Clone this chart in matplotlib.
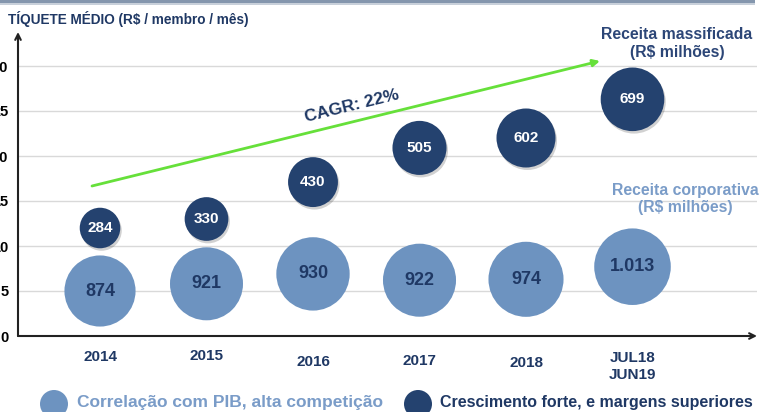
import matplotlib
matplotlib.use("Agg")
import matplotlib.pyplot as plt
import matplotlib.transforms as mtransforms
from matplotlib.patches import Circle, Rectangle

# ---------------- data ----------------
categories = ["2014", "2015", "2016", "2017", "2018", "JUL18\nJUN19"]
corporate_revenue = [874, 921, 930, 922, 974, 1013]
corporate_ticket = [5.0, 5.8, 6.9, 6.2, 6.3, 7.7]
mass_revenue = [284, 330, 430, 505, 602, 699]
mass_ticket = [12.0, 13.0, 17.1, 20.9, 22.0, 26.3]
y_ticks = [0, 5, 10, 15, 20, 25, 30]
cagr_label = "CAGR: 22%"
title = "TÍQUETE MÉDIO (R$ / membro / mês)"
legend_corp = "Correlação com PIB, alta competição"
legend_mass = "Crescimento forte, e margens superiores"

# ---------------- style ----------------
plt.rcParams['font.family'] = ['Liberation Sans', 'DejaVu Sans']
NAVY = "#1f3864"
DARK = "#24426f"
LIGHT = "#6d93c0"
LIGHT_TXT = "#7a9cc8"
GREEN = "#66e03a"

W, H = 760, 412
fig = plt.figure(figsize=(7.6, 4.12), dpi=100)

ax_left, ax_right, ax_bottom, ax_top = 18, 757, 336, 32
ax = fig.add_axes([ax_left / W, (H - ax_bottom) / H,
                   (ax_right - ax_left) / W, (ax_bottom - ax_top) / H])
ax.patch.set_alpha(0)

x = list(range(len(categories)))
step = 106.5
ax.set_xlim((ax_left - 100) / step, (ax_right - 100) / step)
ax.set_ylim(0, (ax_bottom - ax_top) / 9.0)

for s in ax.spines.values():
    s.set_visible(False)

ax.set_yticks(y_ticks)
ax.set_yticklabels([str(v) for v in y_ticks], fontsize=10.5, fontweight='bold', color='black')
ax.set_xticks(x)
ax.set_xticklabels(categories, fontsize=11, fontweight='bold', color=NAVY, linespacing=1.25)
ax.tick_params(axis='both', length=0)
ax.tick_params(axis='y', pad=7.0)
ax.tick_params(axis='x', pad=10.0)
label_nudge_px = [0, -1, 5, 4, 6, 1]
for lab, dy in zip(ax.get_xticklabels(), label_nudge_px):
    lab.set_transform(lab.get_transform() + mtransforms.Affine2D().translate(0, -dy))

ax.yaxis.grid(True, color='#d9d9d9', lw=1.0)
ax.set_axisbelow(True)

# axis arrows
ax.annotate('', xy=(0, 1), xytext=(0, 0), xycoords='axes fraction',
            arrowprops=dict(arrowstyle='->', lw=1.5, color='#222222', shrinkA=0, shrinkB=0))
ax.annotate('', xy=(1, 0), xytext=(0, 0), xycoords='axes fraction',
            arrowprops=dict(arrowstyle='->', lw=1.5, color='#222222', shrinkA=0, shrinkB=0))

# bubbles
size_k = 3.0
ax.scatter(x, corporate_ticket, s=[size_k * v for v in corporate_revenue],
           color=LIGHT, edgecolors='none', zorder=3)
shadow = mtransforms.offset_copy(ax.transData, fig=fig, x=1.5, y=-2.5, units='dots')
ax.scatter(x, mass_ticket, s=[size_k * v for v in mass_revenue],
           color='black', alpha=0.18, edgecolors='none', zorder=3, transform=shadow)
ax.scatter(x, mass_ticket, s=[size_k * v for v in mass_revenue],
           color=DARK, edgecolors='none', zorder=4)

def fmt(v):
    return f"{v:,}".replace(",", ".")

for xi, yv, rv in zip(x, corporate_ticket, corporate_revenue):
    ax.text(xi, yv, fmt(rv), ha='center', va='center', fontsize=13,
            fontweight='bold', color=NAVY, zorder=5)
for xi, yv, rv in zip(x, mass_ticket, mass_revenue):
    ax.text(xi, yv, fmt(rv), ha='center', va='center', fontsize=11,
            fontweight='bold', color='white', zorder=5)

# CAGR arrow
def px2data(px, py):
    return ((px - 100) / step, (ax_bottom - py) / 9.0)

ax.annotate('', xy=px2data(600, 61), xytext=px2data(92, 186), xycoords='data',
            arrowprops=dict(arrowstyle='-|>', lw=2, color=GREEN, mutation_scale=10,
                            shrinkA=0, shrinkB=0), zorder=2)
ax.text(*px2data(352, 106), cagr_label, rotation=13.8, rotation_mode='anchor',
        ha='center', va='center', fontsize=12.5, fontweight='bold', color=NAVY)

# overlay in pixel coordinates
ov = fig.add_axes([0, 0, 1, 1])
ov.set_xlim(0, W)
ov.set_ylim(H, 0)
ov.axis('off')
ov.patch.set_alpha(0)

ov.add_patch(Rectangle((0, 0), 755, 3, color='#8496ad', lw=0))
ov.add_patch(Rectangle((0, 3), 755, 2, color='#c8d0da', lw=0))

ov.text(8, 19, title, ha='left', va='center', fontsize=9.8, fontweight='bold', color=NAVY)

ov.text(677, 43, "Receita massificada\n(R$ milhões)", ha='center', va='center',
        fontsize=11.3, fontweight='bold', color='#2c4677', linespacing=1.25)
ov.text(685, 199, "Receita corporativa\n(R$ milhões)", ha='center', va='center',
        fontsize=11.3, fontweight='bold', color=LIGHT_TXT, linespacing=1.2)

ov.add_patch(Circle((54, 404), 14, color=LIGHT, lw=0))
ov.text(77, 402, legend_corp, ha='left', va='center', fontsize=12.5,
        fontweight='bold', color=LIGHT_TXT)
ov.add_patch(Circle((418, 404), 14, color=DARK, lw=0))
ov.text(440, 402, legend_mass, ha='left', va='center', fontsize=11.5,
        fontweight='bold', color=NAVY)

fig.savefig("out.png", dpi=100)
